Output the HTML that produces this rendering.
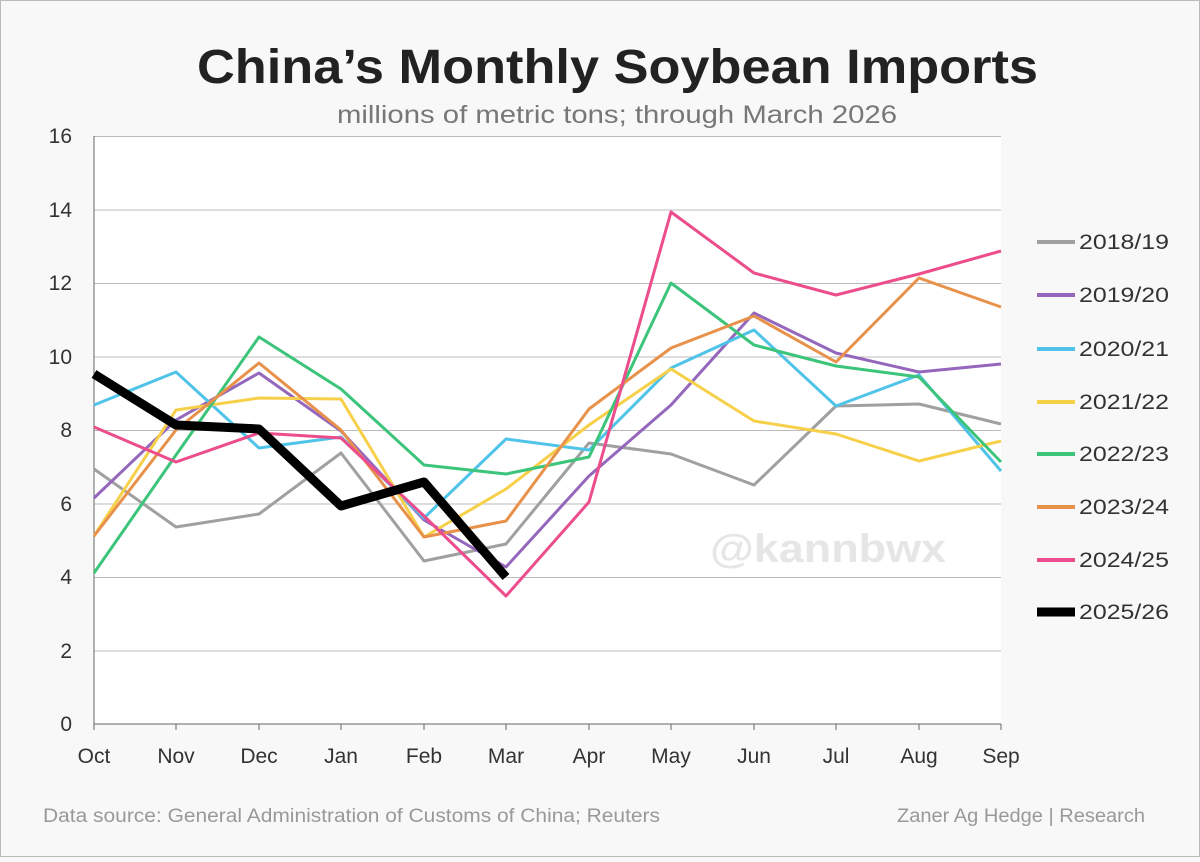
<!DOCTYPE html>
<html><head><meta charset="utf-8"><style>
html,body{margin:0;padding:0;background:#f8f8f8;}
body{width:1200px;height:857px;overflow:hidden;}
</style></head><body>
<svg width="1200" height="857" xmlns="http://www.w3.org/2000/svg" font-family="Liberation Sans, sans-serif">
<rect x="0.5" y="0.5" width="1199" height="856" fill="#f8f8f8" stroke="#bbb"/>
<text x="197" y="83" font-size="48" font-weight="bold" fill="#222" textLength="841" lengthAdjust="spacingAndGlyphs">China’s Monthly Soybean Imports</text>
<text x="337" y="123" font-size="25" fill="#777" textLength="560" lengthAdjust="spacingAndGlyphs">millions of metric tons; through March 2026</text>
<rect x="94" y="136" width="907" height="588" fill="#fff"/>
<g stroke="#bbb" stroke-width="1">
<line x1="94" x2="1001" y1="136.5" y2="136.5"/><line x1="94" x2="1001" y1="210" y2="210"/><line x1="94" x2="1001" y1="283.5" y2="283.5"/><line x1="94" x2="1001" y1="357" y2="357"/><line x1="94" x2="1001" y1="430.5" y2="430.5"/><line x1="94" x2="1001" y1="504" y2="504"/><line x1="94" x2="1001" y1="577.5" y2="577.5"/><line x1="94" x2="1001" y1="651" y2="651"/>
</g>
<line x1="94" x2="1001" y1="724" y2="724" stroke="#666"/>
<line x1="94" x2="94" y1="136" y2="724" stroke="#666"/>
<g stroke="#666"><line x1="94" x2="94" y1="724" y2="730"/><line x1="176" x2="176" y1="724" y2="730"/><line x1="259" x2="259" y1="724" y2="730"/><line x1="341" x2="341" y1="724" y2="730"/><line x1="424" x2="424" y1="724" y2="730"/><line x1="506" x2="506" y1="724" y2="730"/><line x1="589" x2="589" y1="724" y2="730"/><line x1="671" x2="671" y1="724" y2="730"/><line x1="754" x2="754" y1="724" y2="730"/><line x1="836" x2="836" y1="724" y2="730"/><line x1="919" x2="919" y1="724" y2="730"/><line x1="1001" x2="1001" y1="724" y2="730"/></g>
<g font-size="21" fill="#333" text-anchor="end">
<text x="72" y="143">16</text><text x="72" y="217">14</text><text x="72" y="290">12</text><text x="72" y="364">10</text><text x="72" y="437">8</text><text x="72" y="511">6</text><text x="72" y="584">4</text><text x="72" y="658">2</text><text x="72" y="731">0</text>
</g>
<g font-size="21" fill="#333" text-anchor="middle">
<text x="94" y="763">Oct</text><text x="176" y="763">Nov</text><text x="259" y="763">Dec</text><text x="341" y="763">Jan</text><text x="424" y="763">Feb</text><text x="506" y="763">Mar</text><text x="589" y="763">Apr</text><text x="671" y="763">May</text><text x="754" y="763">Jun</text><text x="836" y="763">Jul</text><text x="919" y="763">Aug</text><text x="1001" y="763">Sep</text>
</g>
<text x="710" y="562" font-size="40" font-weight="bold" fill="#e6e6e6" textLength="236" lengthAdjust="spacingAndGlyphs">@kannbwx</text>
<g fill="none" stroke-width="3" stroke-linejoin="round">
<polyline stroke="#a0a0a0" points="94,469 176,527 259,514 341,453 424,561 506,544 589,443 671,454 754,485 836,406 919,404 1001,424"/>
<polyline stroke="#9467bd" points="94,498 176,420 259,373 341,431 424,520 506,567 589,476 671,405 754,313 836,353 919,372 1001,364"/>
<polyline stroke="#4fc3e8" points="94,405 176,372 259,448 341,437 424,518 506,439 589,450 671,368 754,330 836,406 919,375 1001,471"/>
<polyline stroke="#f7d04a" points="94,536 176,410 259,398 341,399 424,537 506,489 589,425 671,369 754,421 836,434 919,461 1001,441"/>
<polyline stroke="#3cc47a" points="94,573 176,455 259,337 341,389 424,465 506,474 589,457 671,283 754,345 836,366 919,377 1001,462"/>
<polyline stroke="#e8914a" points="94,536 176,430 259,363 341,430 424,537 506,521 589,409 671,348 754,316 836,362 919,278 1001,307"/>
<polyline stroke="#ec4d8c" points="94,427 176,462 259,433 341,438 424,516 506,596 589,502 671,212 754,273 836,295 919,274 1001,251"/>
<polyline stroke="#000" stroke-width="9" points="94,374 176,425 259,429 341,506 424,482 506,577"/>
</g>
<g stroke-width="4">
<line x1="1037" x2="1075" y1="242" y2="242" stroke="#a0a0a0"/>
<line x1="1037" x2="1075" y1="295" y2="295" stroke="#9467bd"/>
<line x1="1037" x2="1075" y1="349" y2="349" stroke="#4fc3e8"/>
<line x1="1037" x2="1075" y1="402" y2="402" stroke="#f7d04a"/>
<line x1="1037" x2="1075" y1="454" y2="454" stroke="#3cc47a"/>
<line x1="1037" x2="1075" y1="507" y2="507" stroke="#e8914a"/>
<line x1="1037" x2="1075" y1="560" y2="560" stroke="#ec4d8c"/>
<line x1="1037" x2="1075" y1="612" y2="612" stroke="#000" stroke-width="9"/>
</g>
<g font-size="21" fill="#333">
<text x="1079" y="249" textLength="90" lengthAdjust="spacingAndGlyphs">2018/19</text><text x="1079" y="302" textLength="90" lengthAdjust="spacingAndGlyphs">2019/20</text><text x="1079" y="356" textLength="90" lengthAdjust="spacingAndGlyphs">2020/21</text><text x="1079" y="409" textLength="90" lengthAdjust="spacingAndGlyphs">2021/22</text><text x="1079" y="461" textLength="90" lengthAdjust="spacingAndGlyphs">2022/23</text><text x="1079" y="514" textLength="90" lengthAdjust="spacingAndGlyphs">2023/24</text><text x="1079" y="567" textLength="90" lengthAdjust="spacingAndGlyphs">2024/25</text><text x="1079" y="619" textLength="90" lengthAdjust="spacingAndGlyphs">2025/26</text>
</g>
<text x="43" y="822" font-size="19" fill="#999" textLength="617" lengthAdjust="spacingAndGlyphs">Data source: General Administration of Customs of China; Reuters</text>
<text x="897" y="822" font-size="19" fill="#999" textLength="248" lengthAdjust="spacingAndGlyphs">Zaner Ag Hedge | Research</text>
</svg>
</body></html>
